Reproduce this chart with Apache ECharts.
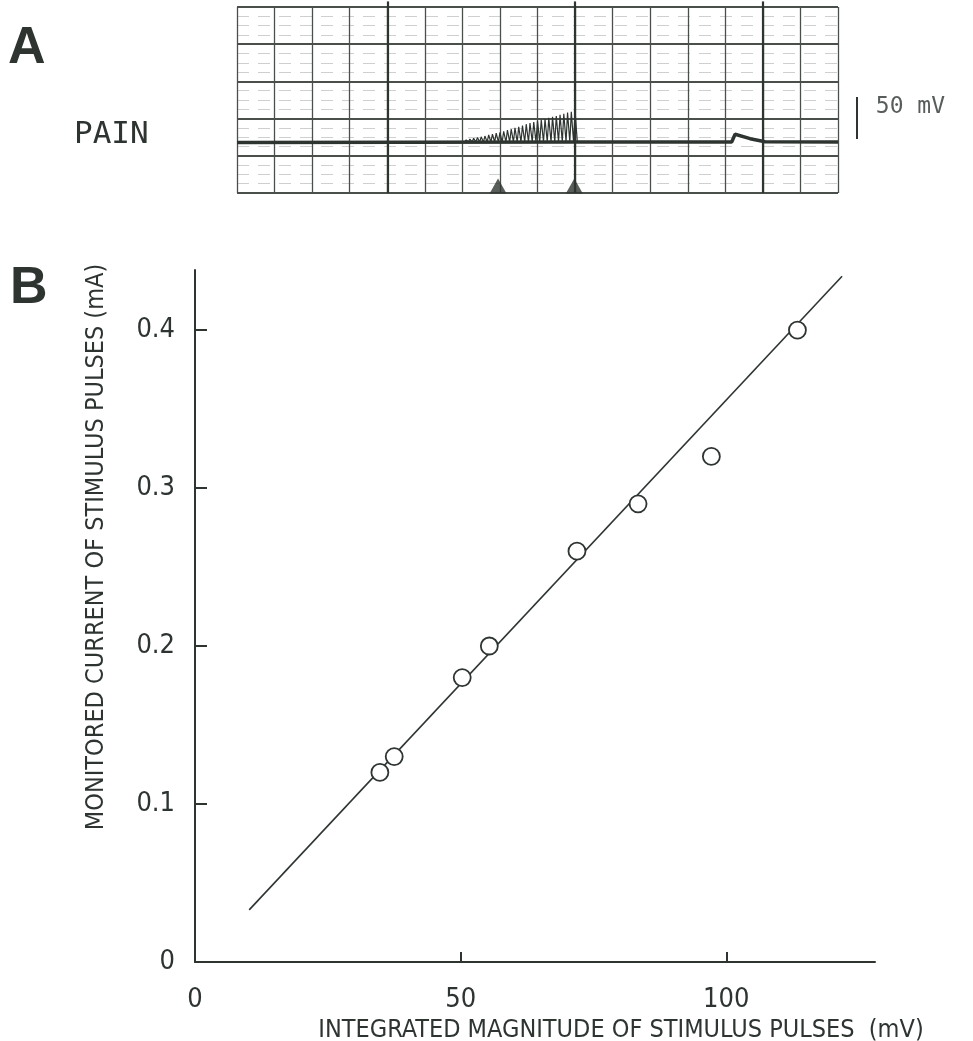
<!DOCTYPE html>
<html><head><meta charset="utf-8">
<script src="https://cdn.jsdelivr.net/npm/echarts@6/dist/echarts.min.js"></script>
<style>html,body{margin:0;padding:0;background:#fff}#c{width:973px;height:1041px}</style>
</head><body><div id="c"></div>
<script>
// ---------- Panel B : scatter + fitted line ----------
const magnitude = [34.8, 37.5, 50.3, 55.4, 71.9, 83.4, 97.2, 113.4];   // mV
const current   = [0.12, 0.13, 0.18, 0.20, 0.26, 0.29, 0.32, 0.40];    // mA
const fitX = [10.2, 121.8];
const fitY = [0.033, 0.434];
const xTickLabels = [0, 50, 100];
const xTickMarks  = [50, 100];
const yTickLabels = [0, 0.1, 0.2, 0.3, 0.4];
const yTickMarks  = [0.1, 0.2, 0.3, 0.4];

// ---------- Panel A : oscilloscope trace (grid divisions) ----------
const traceX = [0, 9.03, 13.17, 13.26, 13.66, 14.06, 16];
const traceY = [1.36, 1.37, 1.37, 1.58, 1.46, 1.38, 1.37];
const pulseX = [5.7,5.8,5.9,6.0,6.1,6.2,6.3,6.4,6.5,6.6,6.7,6.8,6.9,7.0,7.1,7.2,7.3,7.4,7.5,7.6,7.7,7.8,7.9,8.0,8.1,8.2,8.3,8.4,8.5,8.6,8.7,8.8,8.9,9.0];
const pulseAmp = [0.01,0.02,0.03,0.05,0.07,0.09,0.11,0.13,0.15,0.17,0.20,0.22,0.25,0.27,0.30,0.33,0.36,0.39,0.42,0.45,0.49,0.52,0.55,0.58,0.61,0.63,0.66,0.69,0.71,0.74,0.77,0.80,0.82,0.85];
const stimMarkers = [6.95, 8.98];
const majorDivs = [4, 9, 14];
const scaleBarMv = 50;
const mvPerDiv = 44.2;

const ink = '#2e3531';
const narrow = '"Liberation Sans Narrow", "DejaVu Sans Condensed", "Roboto", sans-serif';
const mono = '"DejaVu Sans Mono", "Liberation Mono", monospace';

const pulseData = [];
const base = traceY[0];
pulseX.forEach((x, i) => {
  pulseData.push([x, base]);
  pulseData.push([x, base + pulseAmp[i]]);
  pulseData.push([x + 0.06, base + 0.01]);
});

const chart = echarts.init(document.getElementById('c'), null, {renderer: 'canvas'});
chart.setOption({
  backgroundColor: '#fff',
  animation: false,
  title: [
    {text: 'A', left: 8, top: 23, padding: 0, textStyle: {fontSize: 52, fontWeight: 'bold', fontFamily: '"Liberation Sans", Arial, sans-serif', color: ink}},
    {text: 'B', left: 10, top: 263, padding: 0, textStyle: {fontSize: 52, fontWeight: 'bold', fontFamily: '"Liberation Sans", Arial, sans-serif', color: ink}},
    {text: 'PAIN', left: 74, top: 119, padding: 0, textStyle: {fontSize: 31, fontWeight: 'normal', fontFamily: mono, color: ink}}
  ],
  grid: [
    {left: 237, right: 135, top: 7, height: 186, outerBoundsMode: 'none'},
    {left: 195, right: 98, top: 270, bottom: 79, outerBoundsMode: 'none'}
  ],
  xAxis: [
    {gridIndex: 0, type: 'value', min: 0, max: 16, interval: 1,
     axisLine: {show: false}, axisTick: {show: false}, axisLabel: {show: false},
     splitLine: {show: true, lineStyle: {color: '#4a4f4c', width: 1.3}}},
    {gridIndex: 1, type: 'value', min: 0, max: 128,
     name: 'INTEGRATED MAGNITUDE OF STIMULUS PULSES  (mV)', nameLocation: 'middle', nameGap: 53,
     nameTextStyle: {fontSize: 25, fontFamily: narrow, color: ink, padding: [0, 0, 0, 172]},
     axisLine: {show: true, lineStyle: {color: ink, width: 2}},
     axisTick: {show: true, inside: true, length: 10, customValues: xTickMarks, lineStyle: {color: ink, width: 2}},
     axisLabel: {customValues: xTickLabels, margin: 24, fontSize: 27, fontFamily: narrow, color: ink},
     splitLine: {show: false}}
  ],
  yAxis: [
    {gridIndex: 0, type: 'value', min: 0, max: 5, interval: 1,
     axisLine: {show: false}, axisTick: {show: false}, axisLabel: {show: false},
     splitLine: {show: true, lineStyle: {color: '#4a4f4c', width: 2}},
     minorTick: {show: false, splitNumber: 4},
     minorSplitLine: {show: true, lineStyle: {color: '#cdd0ce', width: 1, type: [12, 9]}}},
    {gridIndex: 1, type: 'value', min: 0, max: 0.438,
     name: 'MONITORED CURRENT OF STIMULUS PULSES (mA)', nameLocation: 'middle', nameGap: 86,
     nameTextStyle: {fontSize: 25, fontFamily: narrow, color: ink, padding: [0, 0, 0, 138]},
     axisLine: {show: true, lineStyle: {color: ink, width: 2}},
     axisTick: {show: true, inside: true, length: 12, customValues: yTickMarks, lineStyle: {color: ink, width: 2}},
     axisLabel: {customValues: yTickLabels, margin: 20, fontSize: 27, fontFamily: narrow, color: ink,
                 formatter: v => v === 0 ? '0' : v.toFixed(1)},
     splitLine: {show: false}}
  ],
  series: [
    {type: 'lines', coordinateSystem: 'cartesian2d', xAxisIndex: 0, yAxisIndex: 0, clip: false, silent: true,
     lineStyle: {color: ink, width: 2.2, opacity: 1},
     data: majorDivs.map(d => ({coords: [[d, 0], [d, 5.15]]}))},
    {type: 'line', xAxisIndex: 0, yAxisIndex: 0, showSymbol: false, silent: true,
     data: pulseData, lineStyle: {color: ink, width: 1.2}},
    {type: 'line', xAxisIndex: 0, yAxisIndex: 0, showSymbol: false, silent: true,
     data: traceX.map((x, i) => [x, traceY[i]]), lineStyle: {color: ink, width: 3.5}},
    {type: 'scatter', xAxisIndex: 0, yAxisIndex: 0, silent: true, symbol: 'triangle', symbolSize: [17, 15],
     itemStyle: {color: ink}, data: stimMarkers.map(x => [x, 0.19])},
    {type: 'lines', coordinateSystem: 'cartesian2d', xAxisIndex: 0, yAxisIndex: 0, clip: false, silent: true,
     lineStyle: {color: ink, width: 2, opacity: 1},
     data: [{coords: [[16.5, 1.45], [16.5, 1.45 + scaleBarMv / mvPerDiv]]}]},
    {type: 'scatter', xAxisIndex: 0, yAxisIndex: 0, clip: false, silent: true, symbolSize: 0,
     data: [[16.5, 1.45 + scaleBarMv / mvPerDiv]],
     label: {show: true, position: 'right', distance: 19, offset: [0, 10], formatter: scaleBarMv + ' mV',
             fontSize: 23, fontFamily: mono, color: ink}},
    {type: 'line', xAxisIndex: 1, yAxisIndex: 1, showSymbol: false, silent: true,
     data: fitX.map((x, i) => [x, fitY[i]]), lineStyle: {color: ink, width: 1.6}},
    {type: 'scatter', xAxisIndex: 1, yAxisIndex: 1, symbol: 'circle', symbolSize: 17, z: 5,
     itemStyle: {color: '#fff', borderColor: ink, borderWidth: 1.8, opacity: 1},
     data: magnitude.map((x, i) => [x, current[i]])}
  ]
});
</script>
</body></html>
